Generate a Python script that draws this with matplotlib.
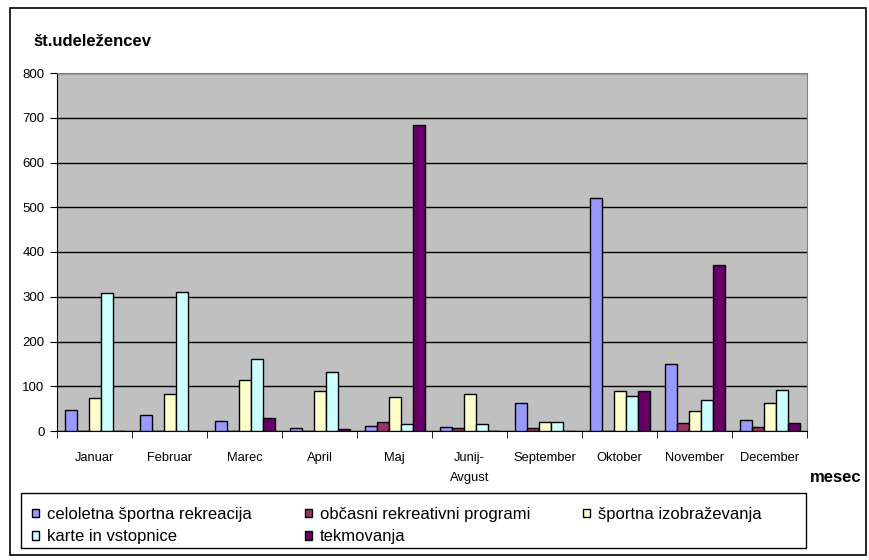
import numpy as np
import matplotlib.pyplot as plt
from matplotlib.patches import Rectangle

meseci = ['Januar', 'Februar', 'Marec', 'April', 'Maj', 'Junij-\nAvgust',
          'September', 'Oktober', 'November', 'December']
serije = ['celoletna športna rekreacija', 'občasni rekreativni programi',
          'športna izobraževanja', 'karte in vstopnice', 'tekmovanja']
celoletna = [48, 35, 22, 7, 12, 9, 63, 521, 149, 25]
obcasni = [0, 0, 0, 0, 19, 6, 6, 0, 18, 8]
izobrazevanja = [74, 83, 115, 89, 76, 83, 19, 89, 44, 63]
karte = [308, 311, 160, 131, 16, 16, 19, 79, 70, 92]
tekmovanja = [0, 0, 30, 5, 683, 0, 0, 89, 371, 18]
barve = ['#9999FF', '#993366', '#FFFFCC', '#CCFFFF', '#660066']

plt.rcParams['font.family'] = ['Liberation Sans', 'DejaVu Sans']

fig = plt.figure(figsize=(8.69, 5.6), dpi=100)
ax = fig.add_axes([57/869, 1-431/560, 750/869, 358/560])
ax.set_facecolor('#C0C0C0')

x = np.arange(len(meseci))
w = 0.16
podatki = [celoletna, obcasni, izobrazevanja, karte, tekmovanja]
rocaji = []
for i, (ime, vals, c) in enumerate(zip(serije, podatki, barve)):
    b = ax.bar(x + (i - 2) * w, vals, w, color=c, edgecolor='black', linewidth=1,
               label=ime, zorder=3)
    rocaji.append(b)

ax.set_xlim(-0.5, 9.5)
ax.set_ylim(0, 800)
ax.set_yticks(range(0, 801, 100))
ax.yaxis.grid(True, color='black', linewidth=1)
ax.set_axisbelow(True)
ax.set_xticks(x)
ax.set_xticklabels(meseci, fontsize=9.3, linespacing=1.9)
ax.set_xticks(np.arange(-0.5, 10, 1), minor=True)
ax.tick_params(axis='x', which='major', length=0, pad=15)
ax.tick_params(axis='x', which='minor', length=5, direction='out', color='black')
ax.tick_params(axis='y', labelsize=9.5, length=5, direction='out', pad=4)
for s in ['top', 'right']:
    ax.spines[s].set_color('#808080')
for s in ['left', 'bottom']:
    ax.spines[s].set_color('black')

fig.text(33/869, 1-42/560, 'št.udeležencev', fontsize=12, fontweight='bold', va='center')
fig.text(810/869, 1-477/560, 'mesec', fontsize=12, fontweight='bold', va='center')

# vrstni red za legendo po vrsticah
red = [0, 3, 1, 4, 2]
leg = fig.legend([rocaji[i] for i in red], [serije[i] for i in red], ncol=3,
                 loc='upper left', bbox_to_anchor=(32/869, 1-507/560),
                 fontsize=12, frameon=False, handlelength=0.42, handleheight=0.42,
                 handletextpad=0.47, borderaxespad=0, borderpad=0,
                 labelspacing=0.45, columnspacing=3.2)

fig.patches.append(Rectangle((21/869, 1-548/560), 785/869, 55/560,
                             transform=fig.transFigure, fill=False,
                             edgecolor='black', linewidth=1))
fig.patches.append(Rectangle((10/869, 1-555/560), 856/869, 547/560,
                             transform=fig.transFigure, fill=False,
                             edgecolor='black', linewidth=1.2))

fig.savefig('out.png', dpi=100)
